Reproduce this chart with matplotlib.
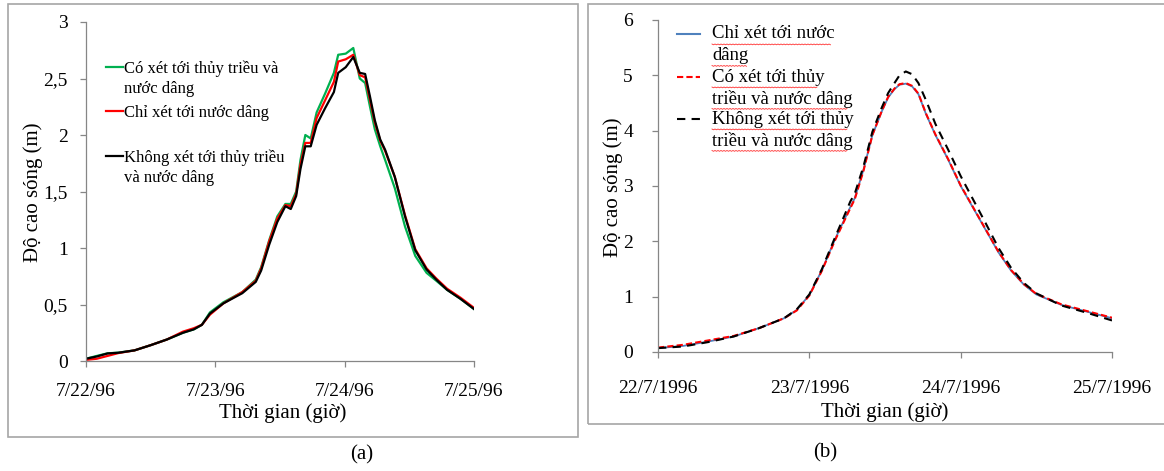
import numpy as np
import matplotlib
matplotlib.use("Agg")
import matplotlib.pyplot as plt
from matplotlib.patches import Rectangle
from matplotlib.lines import Line2D

plt.rcParams['font.family'] = ['Liberation Serif', 'DejaVu Serif']

# ---- panel (a) data: hours since 22/7/1996 00:00, wave height (m)
hours_a = [0, 2, 4, 6, 9, 12, 15, 18, 20, 21.5, 23, 25.5, 29, 31.5, 32.5, 34, 35.5, 37, 38,
           39, 39.8, 40.7, 41.7, 42.8, 44.4, 46, 46.8, 48.2, 49.6, 50.8, 51.8, 52.7, 53.6,
           54.6, 55.5, 57.3, 59.2, 61.1, 63.2, 65, 67, 69.5, 72]
khong_a = [0.02, 0.04, 0.067, 0.073, 0.094, 0.14, 0.19, 0.25, 0.28, 0.32, 0.42, 0.51, 0.60,
           0.70, 0.80, 1.03, 1.23, 1.37, 1.345, 1.46, 1.70, 1.90, 1.90, 2.09, 2.24, 2.38,
           2.55, 2.60, 2.69, 2.55, 2.54, 2.34, 2.13, 1.96, 1.87, 1.63, 1.28, 0.98, 0.81,
           0.72, 0.63, 0.55, 0.46]
co_a = [0.02, 0.045, 0.068, 0.074, 0.094, 0.14, 0.19, 0.25, 0.28, 0.32, 0.43, 0.52, 0.61,
        0.72, 0.83, 1.07, 1.28, 1.39, 1.39, 1.50, 1.78, 2.00, 1.97, 2.20, 2.37, 2.55, 2.71,
        2.72, 2.77, 2.50, 2.46, 2.25, 2.05, 1.90, 1.78, 1.53, 1.19, 0.93, 0.78, 0.71, 0.63,
        0.55, 0.46]
chi_a = [0.01, 0.02, 0.045, 0.07, 0.094, 0.14, 0.19, 0.26, 0.29, 0.32, 0.41, 0.51, 0.61,
         0.71, 0.82, 1.06, 1.26, 1.38, 1.37, 1.48, 1.74, 1.93, 1.93, 2.15, 2.31, 2.47, 2.65,
         2.67, 2.71, 2.53, 2.51, 2.31, 2.11, 1.95, 1.86, 1.63, 1.29, 0.99, 0.82, 0.73, 0.64,
         0.56, 0.47]

# ---- panel (b) data
hours_b = [0, 4, 8, 12, 16, 20, 22, 24, 26, 28, 29.5, 30.5, 31.2, 32.6, 34, 35.5, 36.5, 37.5,
           38.3, 39.3, 40.3, 41.3, 42.5, 44, 46, 48, 50, 52, 54, 56, 58, 60, 64, 68, 72]
chi_b = [0.07, 0.11, 0.19, 0.28, 0.43, 0.61, 0.76, 1.03, 1.48, 2.02, 2.38, 2.62, 2.78, 3.30,
         3.92, 4.35, 4.60, 4.75, 4.83, 4.85, 4.80, 4.66, 4.30, 3.92, 3.48, 3.00, 2.60, 2.20,
         1.80, 1.47, 1.22, 1.04, 0.85, 0.73, 0.61]
co_b = [0.08, 0.13, 0.21, 0.29, 0.43, 0.61, 0.75, 1.02, 1.47, 2.00, 2.36, 2.60, 2.76, 3.28,
        3.92, 4.36, 4.61, 4.76, 4.84, 4.86, 4.81, 4.67, 4.31, 3.93, 3.49, 3.01, 2.61, 2.21,
        1.81, 1.48, 1.23, 1.05, 0.86, 0.74, 0.62]
khong_b = [0.07, 0.10, 0.18, 0.28, 0.43, 0.61, 0.77, 1.04, 1.50, 2.05, 2.45, 2.72, 2.86, 3.36,
           3.98, 4.42, 4.68, 4.86, 5.00, 5.07, 5.02, 4.86, 4.55, 4.12, 3.66, 3.18, 2.75, 2.32,
           1.88, 1.52, 1.25, 1.06, 0.84, 0.71, 0.57]

xtick_a = ['7/22/96', '7/23/96', '7/24/96', '7/25/96']
xtick_b = ['22/7/1996', '23/7/1996', '24/7/1996', '25/7/1996']
ytick_a = ['0', '0,5', '1', '1,5', '2', '2,5', '3']

W, H = 1164, 471


def fx(px):
    return np.asarray(px) / W


def fy(py):
    return 1 - np.asarray(py) / H


fig = plt.figure(figsize=(W / 100, H / 100), dpi=100)

# panel frames
fig.patches.append(Rectangle((fx(7.5), fy(437)), (578 - 7.5) / W, (437 - 4) / H,
                             transform=fig.transFigure, fill=False, ec='#a6a6a6', lw=1.2))
fig.patches.append(Rectangle((fx(587.5), fy(424)), (1172 - 587.5) / W, (424 - 4) / H,
                             transform=fig.transFigure, fill=False, ec='#a6a6a6', lw=1.2))

spine_col = '#868686'


def style_axes(ax, ypad, xpad):
    for s in ['top', 'right']:
        ax.spines[s].set_visible(False)
    for s in ['left', 'bottom']:
        ax.spines[s].set_color(spine_col)
        ax.spines[s].set_linewidth(0.9)
    ax.tick_params(direction='out', length=4, width=0.9, color=spine_col, labelsize=14)
    ax.tick_params(axis='y', pad=ypad)
    ax.tick_params(axis='x', pad=xpad)
    ax.set_xlim(0, 72)
    ax.set_xticks([0, 24, 48, 72])


# ---------------- (a)
ax1 = fig.add_axes([fx(86), fy(361), (474 - 86) / W, (361 - 22) / H])
ax1.plot(hours_a, co_a, color='#00b050', lw=1.6)
ax1.plot(hours_a, chi_a, color='#ff0000', lw=1.6)
ax1.plot(hours_a, khong_a, color='black', lw=1.6)
style_axes(ax1, 9, 12)
ax1.set_ylim(0, 3)
ax1.set_yticks(np.arange(0, 3.01, 0.5))
ax1.set_yticklabels(ytick_a)
ax1.set_xticklabels(xtick_a)
ax1.set_xlabel('Thời gian (giờ)', fontsize=15)
ax1.set_ylabel('Độ cao sóng (m)', fontsize=15)
ax1.xaxis.set_label_coords(fx(283), fy(413), transform=fig.transFigure)
ax1.yaxis.set_label_coords(fx(33), fy(192), transform=fig.transFigure)
ax1.xaxis.label.set_va('center')
ax1.yaxis.label.set_va('center')

leg_a = [('#00b050', 67, ['Có xét tới thủy triều và', 'nước dâng']),
         ('#ff0000', 111, ['Chỉ xét tới nước dâng']),
         ('black', 156, ['Không xét tới thủy triều', 'và nước dâng'])]
for col, y, lines in leg_a:
    fig.add_artist(Line2D([fx(106), fx(123)], [fy(y), fy(y)], color=col, lw=1.6))
    for i, t in enumerate(lines):
        fig.text(fx(124), fy(y + 2 + 19.5 * i), t, fontsize=12, va='center', ha='left')

# ---------------- (b)
ax2 = fig.add_axes([fx(658), fy(352), (1112 - 658) / W, (352 - 20) / H])
ax2.plot(hours_b, chi_b, color='#4f81bd', lw=1.3)
ax2.plot(hours_b, co_b, color='#ff0000', lw=1.5, dashes=(3, 1.5))
ax2.plot(hours_b, khong_b, color='black', lw=1.5, dashes=(4, 3))
style_axes(ax2, 14, 16)
ax2.set_ylim(0, 6)
ax2.set_yticks(range(0, 7))
ax2.set_xticklabels(xtick_b)
ax2.set_xlabel('Thời gian (giờ)', fontsize=15)
ax2.set_ylabel('Độ cao sóng (m)', fontsize=15)
ax2.xaxis.set_label_coords(fx(885), fy(412), transform=fig.transFigure)
ax2.yaxis.set_label_coords(fx(613), fy(187), transform=fig.transFigure)
ax2.xaxis.label.set_va('center')
ax2.yaxis.label.set_va('center')

leg_b = [('#4f81bd', 34, None, ['Chỉ xét tới nước', 'dâng'], [120, 36]),
         ('#ff0000', 77, (3, 1.5), ['Có xét tới thủy', 'triều và nước dâng'], [106, 136]),
         ('black', 119, (4, 3), ['Không xét tới thủy', 'triều và nước dâng'], [136, 136])]
for col, y, dash, lines, widths in leg_b:
    ln = Line2D([fx(677), fx(700)], [fy(y), fy(y)], color=col, lw=1.5)
    if dash:
        ln.set_dashes(dash)
    fig.add_artist(ln)
    for i, t in enumerate(lines):
        yy = y + 21.5 * i
        fig.text(fx(712), fy(yy), t, fontsize=13.5, va='center', ha='left')
        # spell-check wavy underline
        xs = np.arange(712, 712 + widths[i], 1.5)
        ys = yy + 10 + 0.8 * (np.arange(len(xs)) % 2)
        fig.add_artist(Line2D(fx(xs), fy(ys), color='#ff3030', lw=0.6))

fig.text(fx(362), fy(455), '(a)', fontsize=15, ha='center', va='center')
fig.text(fx(825), fy(453), '(b)', fontsize=15, ha='center', va='center')

fig.savefig('out.png', dpi=100)
